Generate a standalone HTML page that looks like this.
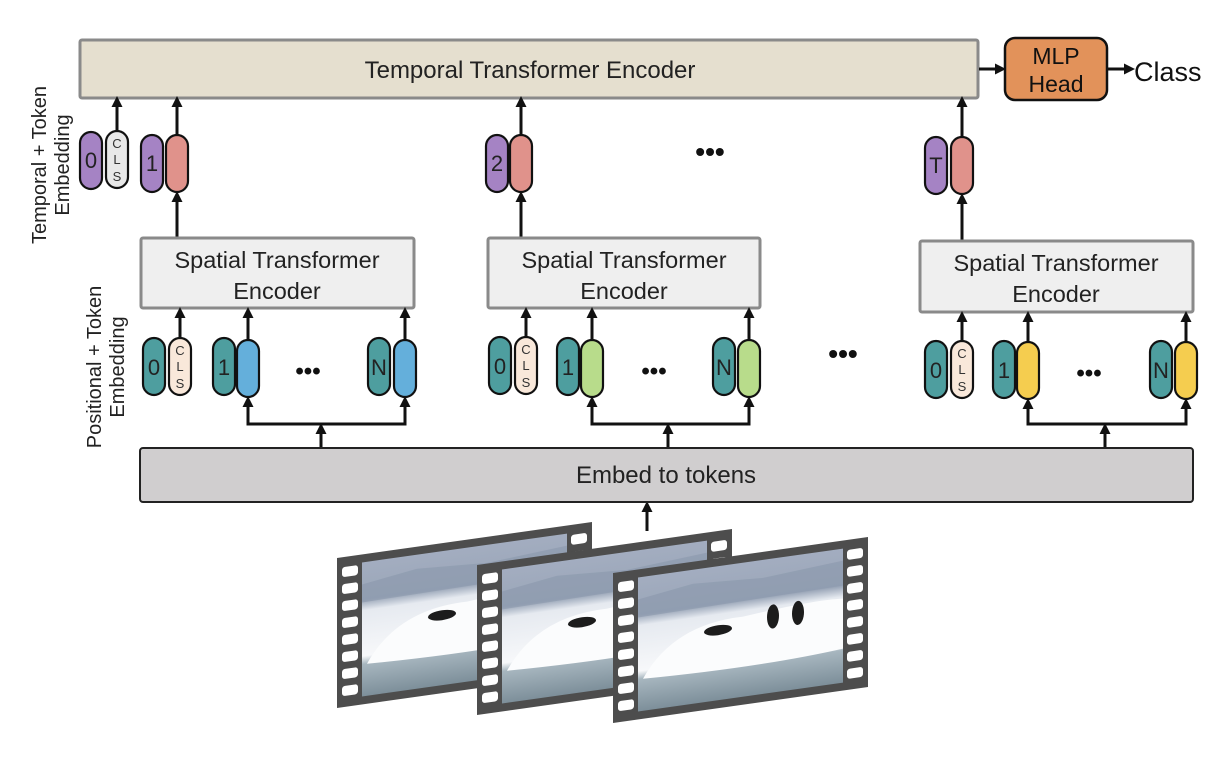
<!DOCTYPE html>
<html><head><meta charset="utf-8"><style>
html,body{margin:0;padding:0;background:#fff;}
svg{display:block;font-family:"Liberation Sans",sans-serif;}
</style></head><body>
<svg width="1220" height="764" viewBox="0 0 1220 764" xmlns="http://www.w3.org/2000/svg">
<defs>
<marker id="ah" markerWidth="12" markerHeight="12" refX="7" refY="6" orient="auto" markerUnits="userSpaceOnUse"><path d="M0,0.5 L11,6 L0,11.5 z" fill="#111"/></marker>
<linearGradient id="img" x1="0" y1="0" x2="0" y2="1">
<stop offset="0" stop-color="#a3adc0"/><stop offset="0.28" stop-color="#9aa6b8"/><stop offset="0.36" stop-color="#e6eaf0"/><stop offset="0.7" stop-color="#f7f8fa"/><stop offset="0.76" stop-color="#a7b6bf"/><stop offset="1" stop-color="#7d8f9a"/>
</linearGradient>
<g id="frame">
<rect x="0" y="0" width="255" height="150" fill="#4d4d4d"/>
<rect x="25" y="8" width="205" height="134" fill="url(#img)"/>
<path d="M25,30 L80,22 L150,26 L230,20 L230,45 L25,48 z" fill="#8b97ab" opacity="0.6"/>
<path d="M30,110 Q60,60 130,62 Q200,55 230,58 L230,108 Q150,115 30,110 z" fill="#fbfcfd"/>
<g fill="#fff">
<rect x="5" y="10" width="16" height="10" rx="3"/><rect x="5" y="27" width="16" height="10" rx="3"/><rect x="5" y="44" width="16" height="10" rx="3"/><rect x="5" y="61" width="16" height="10" rx="3"/><rect x="5" y="78" width="16" height="10" rx="3"/><rect x="5" y="95" width="16" height="10" rx="3"/><rect x="5" y="112" width="16" height="10" rx="3"/><rect x="5" y="129" width="16" height="10" rx="3"/>
<rect x="234" y="10" width="16" height="10" rx="3"/><rect x="234" y="27" width="16" height="10" rx="3"/><rect x="234" y="44" width="16" height="10" rx="3"/><rect x="234" y="61" width="16" height="10" rx="3"/><rect x="234" y="78" width="16" height="10" rx="3"/><rect x="234" y="95" width="16" height="10" rx="3"/><rect x="234" y="112" width="16" height="10" rx="3"/><rect x="234" y="129" width="16" height="10" rx="3"/>
</g>
<g fill="#1c1c1c"><ellipse cx="105" cy="72" rx="14" ry="5"/><ellipse cx="160" cy="66" rx="6" ry="12"/><ellipse cx="185" cy="66" rx="6" ry="12"/></g>
</g>
</defs>

<rect x="80" y="40" width="898" height="58" rx="2" fill="#e5dfcf" stroke="#8a8a8a" stroke-width="3"/>
<text x="530" y="78" font-size="24" text-anchor="middle" fill="#222">Temporal Transformer Encoder</text>
<rect x="1005" y="38" width="102" height="62" rx="10" fill="#e2925a" stroke="#111" stroke-width="2.5"/>
<text x="1056" y="64" font-size="23" text-anchor="middle" fill="#111">MLP</text>
<text x="1056" y="92" font-size="23" text-anchor="middle" fill="#111">Head</text>
<text x="1134" y="81" font-size="27" fill="#111">Class</text>
<g stroke="#111" stroke-width="3" fill="none" marker-end="url(#ah)">
<line x1="979" y1="69" x2="1002" y2="69"/>
<line x1="1108" y1="69" x2="1131" y2="69"/>
<line x1="117" y1="131" x2="117" y2="100"/>
<line x1="177" y1="135" x2="177" y2="100"/>
<line x1="521" y1="135" x2="521" y2="100"/>
<line x1="962" y1="137" x2="962" y2="100"/>
<line x1="177" y1="238" x2="177" y2="195"/>
<line x1="521" y1="238" x2="521" y2="195"/>
<line x1="962" y1="241" x2="962" y2="197"/>
</g>

<text transform="translate(46,165) rotate(-90)" font-size="20" text-anchor="middle" fill="#222">Temporal + Token</text>
<text transform="translate(69,165) rotate(-90)" font-size="20" text-anchor="middle" fill="#222">Embedding</text>
<text transform="translate(101,367) rotate(-90)" font-size="20" text-anchor="middle" fill="#222">Positional + Token</text>
<text transform="translate(124,367) rotate(-90)" font-size="20" text-anchor="middle" fill="#222">Embedding</text>

<g stroke="#111" stroke-width="2.2">
<rect x="80" y="132" width="22" height="57" rx="11" fill="#a583c4"/>
<rect x="106" y="131" width="22" height="57" rx="11" fill="#e8e8e8"/>
<rect x="141" y="135" width="22" height="57" rx="11" fill="#a583c4"/>
<rect x="166" y="135" width="22" height="57" rx="11" fill="#e0928b"/>
<rect x="486" y="135" width="22" height="57" rx="11" fill="#a583c4"/>
<rect x="510" y="135" width="22" height="57" rx="11" fill="#e0928b"/>
<rect x="925" y="137" width="22" height="57" rx="11" fill="#a583c4"/>
<rect x="951" y="137" width="22" height="57" rx="11" fill="#e0928b"/>
</g>
<g font-size="22" text-anchor="middle" fill="#222">
<text x="91" y="168">0</text><text x="152" y="171">1</text><text x="497" y="171">2</text><text x="936" y="173">T</text>
</g>
<g font-size="13" text-anchor="middle" fill="#333">
<text x="117" y="148">C</text><text x="117" y="164">L</text><text x="117" y="181">S</text>
</g>
<text x="710" y="161" font-size="28" font-weight="bold" text-anchor="middle" fill="#111">•••</text>
<text x="843" y="363" font-size="28" font-weight="bold" text-anchor="middle" fill="#111">•••</text>

<g fill="#efefef" stroke="#8a8a8a" stroke-width="3">
<rect x="141" y="238" width="273" height="70" rx="2"/>
<rect x="488" y="238" width="272" height="70" rx="2"/>
<rect x="920" y="241" width="273" height="71" rx="2"/>
</g>
<g font-size="23.5" text-anchor="middle" fill="#222">
<text x="277" y="268">Spatial Transformer</text><text x="277" y="299">Encoder</text>
<text x="624" y="268">Spatial Transformer</text><text x="624" y="299">Encoder</text>
<text x="1056" y="271">Spatial Transformer</text><text x="1056" y="302">Encoder</text>
</g>

<g stroke="#111" stroke-width="2.2">
<rect x="143" y="338" width="22" height="57" rx="11" fill="#4e9e9f"/>
<rect x="169" y="338" width="22" height="57" rx="11" fill="#f9e8da"/>
<rect x="213" y="338" width="22" height="57" rx="11" fill="#4e9e9f"/>
<rect x="237" y="340" width="22" height="57" rx="11" fill="#64afdb"/>
<rect x="368" y="338" width="22" height="57" rx="11" fill="#4e9e9f"/>
<rect x="394" y="340" width="22" height="57" rx="11" fill="#64afdb"/>

<rect x="489" y="337" width="22" height="57" rx="11" fill="#4e9e9f"/>
<rect x="515" y="337" width="22" height="57" rx="11" fill="#f9e8da"/>
<rect x="557" y="338" width="22" height="57" rx="11" fill="#4e9e9f"/>
<rect x="581" y="340" width="22" height="57" rx="11" fill="#b8dc8b"/>
<rect x="713" y="338" width="22" height="57" rx="11" fill="#4e9e9f"/>
<rect x="738" y="340" width="22" height="57" rx="11" fill="#b8dc8b"/>

<rect x="925" y="341" width="22" height="57" rx="11" fill="#4e9e9f"/>
<rect x="951" y="341" width="22" height="57" rx="11" fill="#f9e8da"/>
<rect x="993" y="341" width="22" height="57" rx="11" fill="#4e9e9f"/>
<rect x="1017" y="342" width="22" height="57" rx="11" fill="#f5cd4f"/>
<rect x="1150" y="341" width="22" height="57" rx="11" fill="#4e9e9f"/>
<rect x="1175" y="342" width="22" height="57" rx="11" fill="#f5cd4f"/>
</g>
<g font-size="22" text-anchor="middle" fill="#222">
<text x="154" y="375">0</text><text x="224" y="375">1</text><text x="379" y="375">N</text>
<text x="500" y="374">0</text><text x="568" y="375">1</text><text x="724" y="375">N</text>
<text x="936" y="378">0</text><text x="1004" y="378">1</text><text x="1161" y="378">N</text>
</g>
<g font-size="13" text-anchor="middle" fill="#333">
<text x="180" y="355">C</text><text x="180" y="371">L</text><text x="180" y="388">S</text>
<text x="526" y="354">C</text><text x="526" y="370">L</text><text x="526" y="387">S</text>
<text x="962" y="358">C</text><text x="962" y="374">L</text><text x="962" y="391">S</text>
</g>
<g font-size="24" font-weight="bold" text-anchor="middle" fill="#111">
<text x="308" y="379">•••</text><text x="654" y="379">•••</text><text x="1089" y="381">•••</text>
</g>

<g stroke="#111" stroke-width="3" fill="none" marker-end="url(#ah)">
<line x1="180" y1="338" x2="180" y2="311"/>
<line x1="248" y1="340" x2="248" y2="311"/>
<line x1="405" y1="340" x2="405" y2="311"/>
<line x1="526" y1="337" x2="526" y2="311"/>
<line x1="592" y1="340" x2="592" y2="311"/>
<line x1="749" y1="340" x2="749" y2="311"/>
<line x1="962" y1="341" x2="962" y2="315"/>
<line x1="1028" y1="342" x2="1028" y2="315"/>
<line x1="1186" y1="342" x2="1186" y2="315"/>
<line x1="248" y1="424" x2="248" y2="400"/><line x1="405" y1="424" x2="405" y2="400"/>
<line x1="321" y1="447" x2="321" y2="427"/>
<line x1="592" y1="424" x2="592" y2="400"/><line x1="749" y1="424" x2="749" y2="400"/>
<line x1="668" y1="447" x2="668" y2="427"/>
<line x1="1028" y1="424" x2="1028" y2="402"/><line x1="1186" y1="424" x2="1186" y2="402"/>
<line x1="1105" y1="447" x2="1105" y2="427"/>
<line x1="647" y1="531" x2="647" y2="505"/>
</g>
<g stroke="#111" stroke-width="3" fill="none">
<line x1="246.5" y1="424" x2="406.5" y2="424"/>
<line x1="590.5" y1="424" x2="750.5" y2="424"/>
<line x1="1026.5" y1="424" x2="1187.5" y2="424"/>
</g>

<rect x="140" y="448" width="1053" height="54" rx="3" fill="#d0cecf" stroke="#222" stroke-width="2"/>
<text x="666" y="483" font-size="24" text-anchor="middle" fill="#222">Embed to tokens</text>

<use href="#frame" transform="translate(337,558) matrix(1,-0.141,0,1,0,0)"/>
<use href="#frame" transform="translate(477,565) matrix(1,-0.141,0,1,0,0)"/>
<use href="#frame" transform="translate(613,573) matrix(1,-0.141,0,1,0,0)"/>
</svg>
</body></html>
